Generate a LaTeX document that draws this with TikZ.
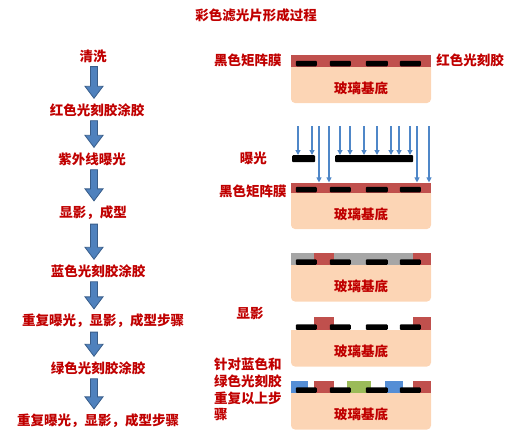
\documentclass[tikz,border=0pt]{standalone}
\usepackage{xcolor}
\usepackage{fontspec}
\setmainfont{Noto Sans CJK SC}
\usepackage{tikz}
\usetikzlibrary{arrows.meta, positioning, calc}

\definecolor{labelred}{HTML}{C00000}
\definecolor{resistred}{HTML}{C0504D}
\definecolor{resistgrey}{HTML}{A6A6A6}
\definecolor{resistblue}{HTML}{558ED5}
\definecolor{resistgreen}{HTML}{9BBB59}
\definecolor{glass}{HTML}{FCD5B5}
\definecolor{arrowblue}{HTML}{4F81BD}
\definecolor{arrowedge}{HTML}{385D8A}
\definecolor{raycolor}{HTML}{4F87C8}

\tikzset{
  steptext/.style={font=\bfseries\fontsize{13.5}{16.7}\selectfont, text=labelred, inner sep=1pt},
  flowarrow/.style={draw=arrowedge, fill=arrowblue, line width=0.8pt, line join=miter},
  substrate/.style={rectangle, minimum width=140pt, minimum height=36pt, inner sep=0pt,
                    text height=18pt, text depth=1.6pt,
                    font=\bfseries\fontsize{13.5}{16}\selectfont, text=labelred,
                    path picture={\fill[glass, rounded corners=4pt]
                      ([yshift=6pt]path picture bounding box.north west) rectangle
                      (path picture bounding box.south east);}},
  coat/.style={rectangle, inner sep=0pt, anchor=south west, minimum height=12pt},
  maskbar/.style={rectangle, fill=black, rounded corners=1pt, inner sep=0pt,
                  minimum height=7pt, anchor=north west},
  ray/.style={draw=raycolor, line width=1.1pt, -{Triangle[width=5pt,length=5pt]}}
}

% block arrow between two process steps, on the column axis
\newcommand{\flowstep}[2]{%
  \path (#1.south -| axis) ++(0,3) coordinate (fa-top)
        (#2.north -| axis) ++(0,-4) coordinate (fa-tip);
  \draw[flowarrow] ([xshift=-3.5pt]fa-top) -- ([xshift=3.5pt]fa-top)
    -- ([xshift=3.5pt,yshift=12pt]fa-tip) -- ([xshift=9pt,yshift=12pt]fa-tip)
    -- (fa-tip) -- ([xshift=-9pt,yshift=12pt]fa-tip)
    -- ([xshift=-3.5pt,yshift=12pt]fa-tip) -- cycle;}

% black matrix stripes sitting on a glass substrate
\newcommand{\blackmatrix}[1]{%
  \fill[rounded corners=1pt] ([xshift=5pt,yshift=0.5pt]#1.north west) rectangle ([xshift=26pt,yshift=6pt]#1.north west);
  \fill[rounded corners=1pt] ([xshift=39pt,yshift=0.5pt]#1.north west) rectangle ([xshift=60pt,yshift=6pt]#1.north west);
  \fill[rounded corners=1pt] ([xshift=75pt,yshift=0.5pt]#1.north west) rectangle ([xshift=97pt,yshift=6pt]#1.north west);
  \fill[rounded corners=1pt] ([xshift=109pt,yshift=0.5pt]#1.north west) rectangle ([xshift=130pt,yshift=6pt]#1.north west);}

\begin{document}
\begin{tikzpicture}[x=1pt, y=-1pt]
  \useasboundingbox (0,0) rectangle (513,432);

  % Title
  \node[steptext] (title) at (256,15) {彩色滤光片形成过程};

  % Process steps
  \coordinate (axis) at (94,0);
  \node[steptext] (s1) at (93,56) {清洗};
  \node[steptext] (s2) at (97,110) {红色光刻胶涂胶};
  \node[steptext] (s3) at (92,159) {紫外线曝光};
  \node[steptext] (s4) at (93,213) {显影，成型};
  \node[steptext] (s5) at (98,271) {蓝色光刻胶涂胶};
  \node[steptext] (s6) at (103,321) {重复曝光，显影，成型步骤};
  \node[steptext] (s7) at (98,368) {绿色光刻胶涂胶};
  \node[steptext] (s8) at (98,421) {重复曝光，显影，成型步骤};

  \flowstep{s1}{s2}
  \flowstep{s2}{s3}
  \flowstep{s3}{s4}
  \flowstep{s4}{s5}
  \flowstep{s5}{s6}
  \flowstep{s6}{s7}
  \flowstep{s7}{s8}

  % Red resist coated over the black matrix
  \node[substrate] (g1) at (361,85) {玻璃基底};
  \node[coat, fill=resistred, minimum width=140pt] (r1) at (g1.north west) {};
  \blackmatrix{g1}
  \node[steptext, left=8pt of r1] (bm1) {黑色矩阵膜};
  \node[steptext, right=4pt of r1] (rr1) {红色光刻胶};

  % UV exposure through the mask
  \node[substrate] (g2) at (361,211) {玻璃基底};
  \node[coat, fill=resistred, minimum width=140pt, minimum height=10pt] (r2) at (g2.north west) {};
  \blackmatrix{g2}
  \node[steptext, left=3pt of r2, yshift=-4pt] (bm2) {黑色矩阵膜};
  \node[maskbar, minimum width=23pt] (m1) at (292,155) {};
  \node[maskbar, minimum width=78pt] (m2) at (335,155) {};
  \node[steptext, left=24pt of m1] (uv) {曝光};
  \coordinate (uvtop) at (291,126);
  \foreach \dx in {7,21}
    \draw[ray] ([xshift=\dx pt]uvtop) -- ([xshift=\dx pt]uvtop |- m1.north);
  \foreach \dx in {49,59,73,86,100,108,119}
    \draw[ray] ([xshift=\dx pt]uvtop) -- ([xshift=\dx pt]uvtop |- m2.north);
  \foreach \dx in {28,38,126,138}
    \draw[ray] ([xshift=\dx pt]uvtop) -- ([xshift=\dx pt]uvtop |- r2.north);

  % Exposed resist
  \node[substrate] (g3) at (361,283.5) {玻璃基底};
  \node[coat, fill=resistgrey, minimum width=140pt] (r3) at (g3.north west) {};
  \node[coat, fill=resistred, minimum width=20pt] (r3a) at ([xshift=23pt]g3.north west) {};
  \node[coat, fill=resistred, minimum width=18pt] (r3b) at ([xshift=122pt]g3.north west) {};
  \blackmatrix{g3}

  \node[steptext] (dev) at (250,313) {显影};

  % After development
  \node[substrate] (g4) at (361,348.5) {玻璃基底};
  \node[coat, fill=resistred, minimum width=20pt, minimum height=13pt] (r4a) at ([xshift=23pt]g4.north west) {};
  \node[coat, fill=resistred, minimum width=18pt, minimum height=13pt] (r4b) at ([xshift=122pt]g4.north west) {};
  \blackmatrix{g4}

  % Finished colour filter
  \node[substrate] (g5) at (361,411.5) {玻璃基底};
  \node[coat, fill=resistblue, minimum width=17pt] (r5a) at (g5.north west) {};
  \node[coat, fill=resistred, minimum width=20pt] (r5b) at ([xshift=23pt]g5.north west) {};
  \node[coat, fill=resistgreen, minimum width=24pt] (r5c) at ([xshift=56pt]g5.north west) {};
  \node[coat, fill=resistblue, minimum width=18pt] (r5d) at ([xshift=94pt]g5.north west) {};
  \node[coat, fill=resistred, minimum width=18pt] (r5e) at ([xshift=122pt]g5.north west) {};
  \blackmatrix{g5}
  \node[steptext, align=left, anchor=north west] (rep) at (213,357)
        {针对蓝色和\\绿色光刻胶\\重复以上步\\骤};
\end{tikzpicture}
\end{document}
